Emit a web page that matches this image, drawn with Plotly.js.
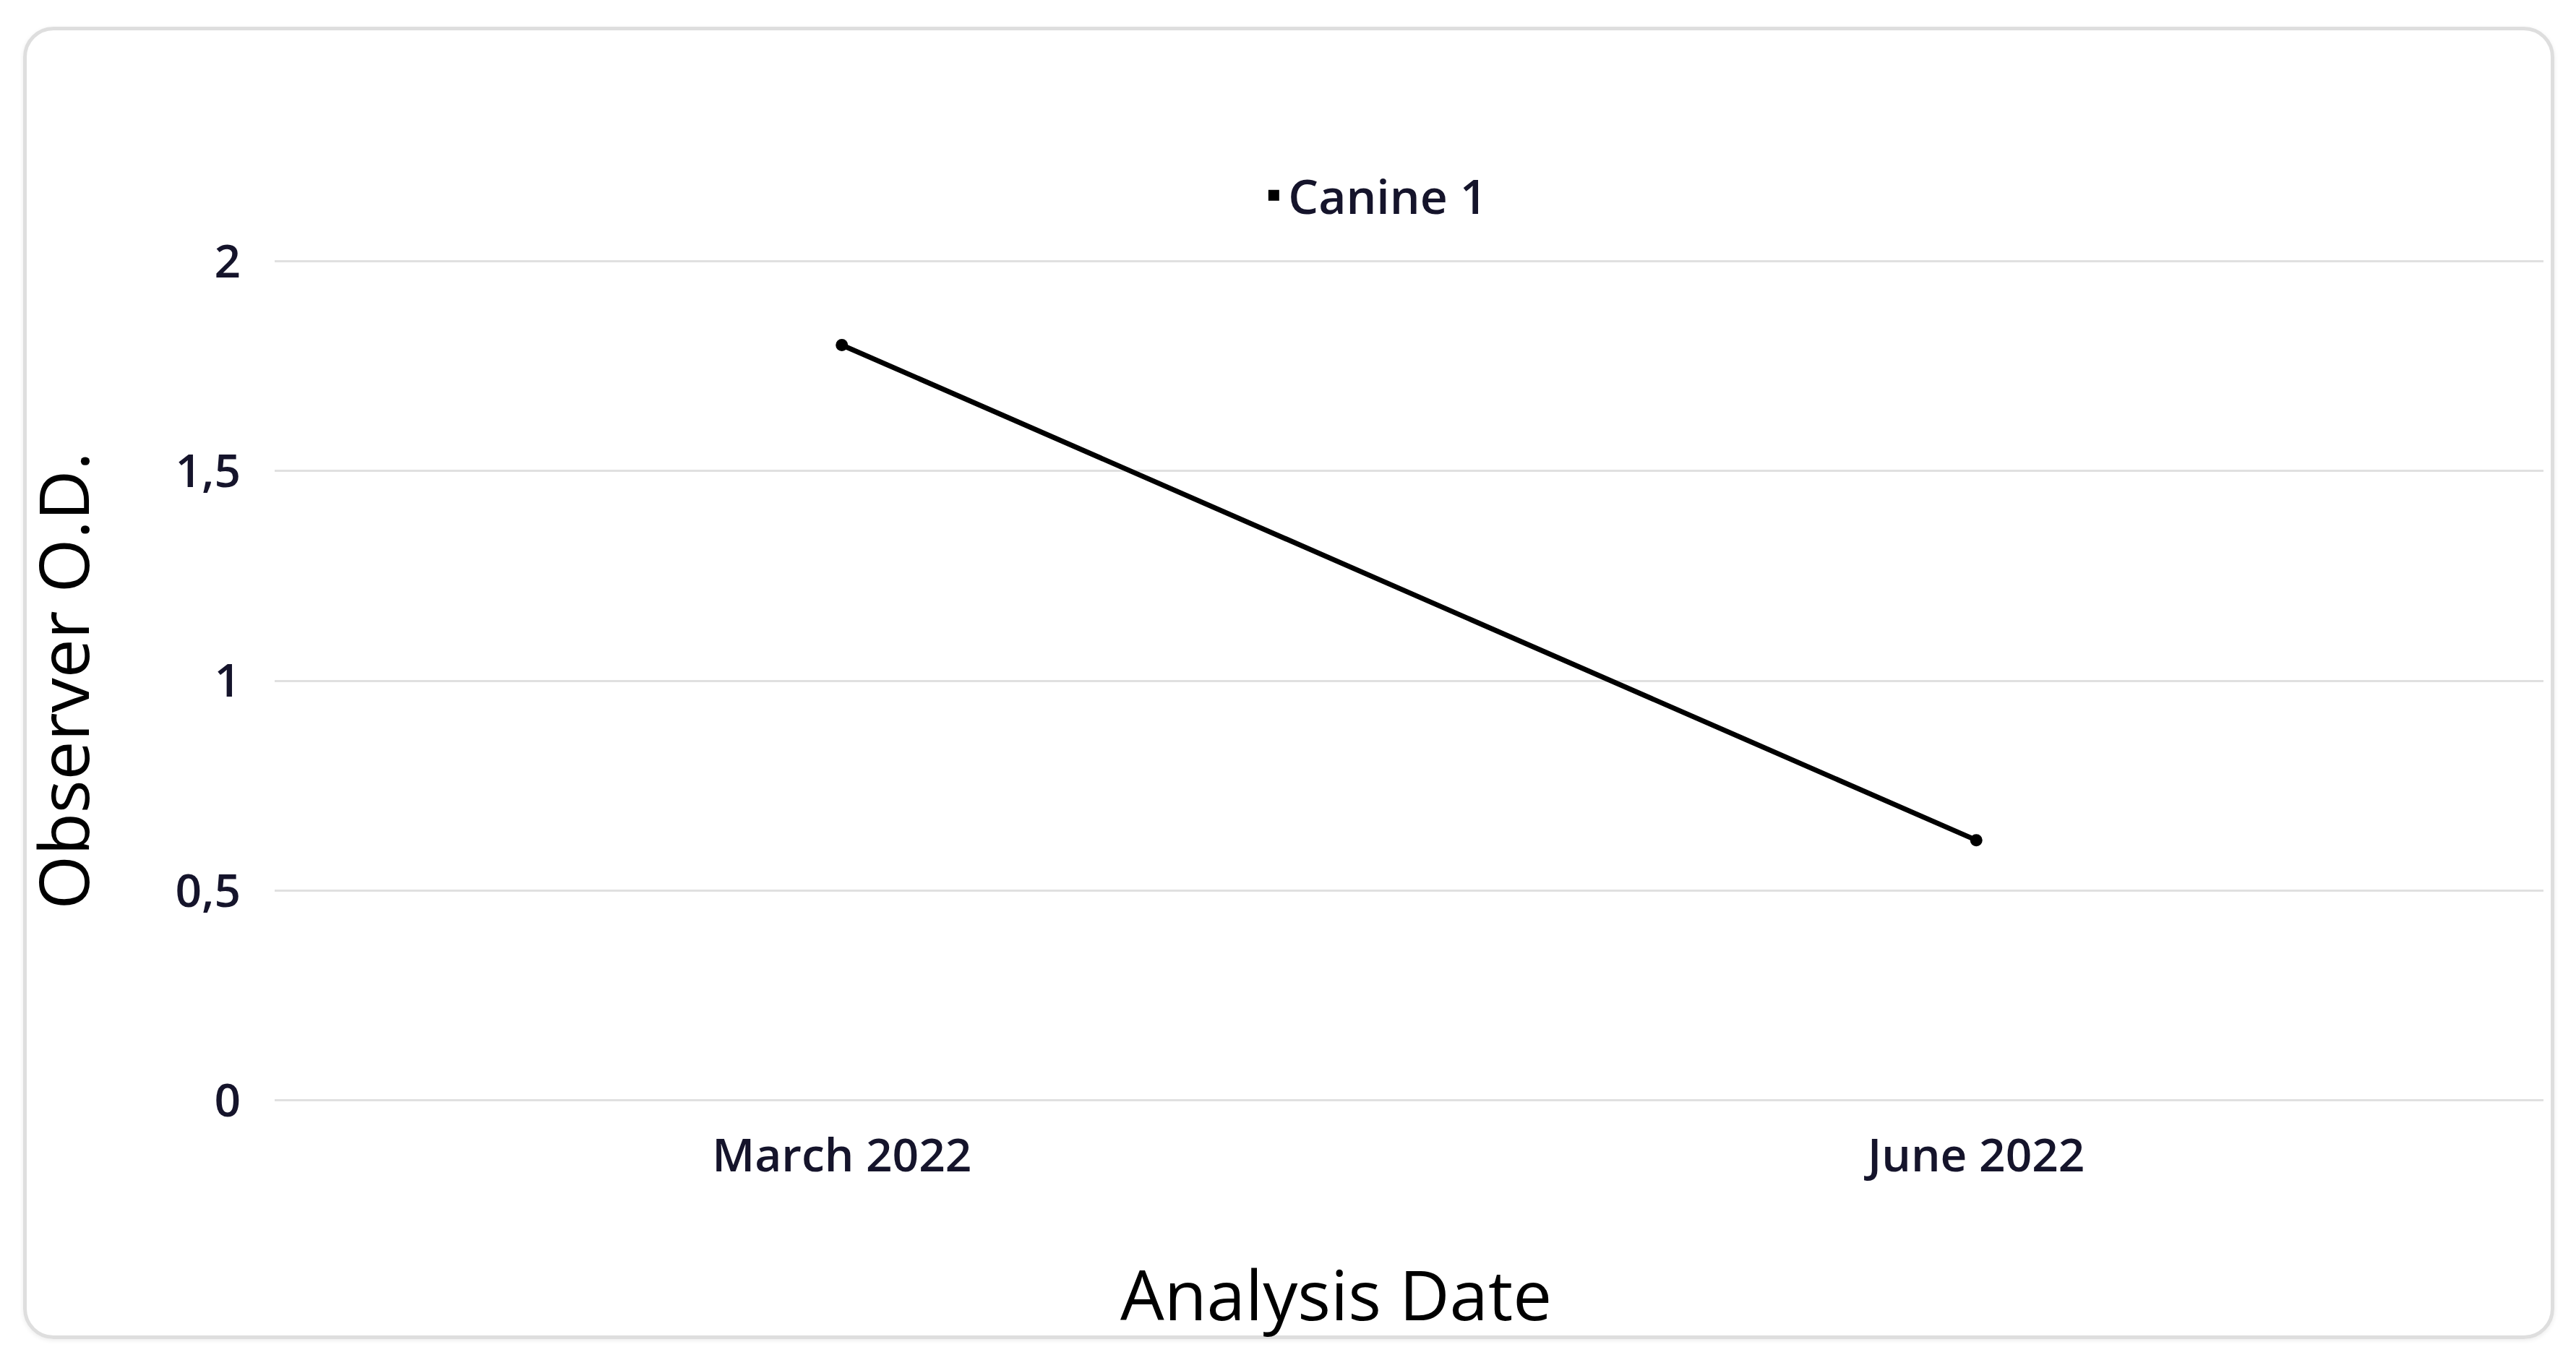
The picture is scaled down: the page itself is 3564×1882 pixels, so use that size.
<!DOCTYPE html>
<html>
<head>
<meta charset="utf-8">
<script src="https://cdn.plot.ly/plotly-3.0.1.min.js"></script>
<style>
  html, body { margin: 0; padding: 0; background: #ffffff; }
  #frame {
    position: absolute; left: 32px; top: 37px;
    width: 3492px; height: 1806px;
    border: 5px solid #dedede; border-radius: 42px;
    box-shadow: 0 2px 6px rgba(0,0,0,0.08);
  }
  #chart { position: absolute; left: 0; top: 0; width: 3564px; height: 1882px; }
</style>
</head>
<body>
<div id="frame"></div>
<div id="chart"></div>
<script>
// data
let dates = ['March 2022', 'June 2022'];
let canine1 = [1.80, 0.62];
let yTicks = [0, 0.5, 1, 1.5, 2];
let yTickText = ['0', '0,5', '1', '1,5', '2'];

let textColor = '#15142b';
let fontFam = '"Open Sans", "DejaVu Sans", sans-serif';

// line with dots, no legend entry
var lineTrace = {
    x: dates,
    y: canine1,
    mode: 'lines+markers',
    line: {color: '#000000', width: 7},
    marker: {color: '#000000', size: 17},
    showlegend: false,
    hoverinfo: 'skip'
};
// legend shows a small square only
var legendTrace = {
    x: [null],
    y: [null],
    name: 'Canine 1',
    mode: 'markers',
    marker: {color: '#000000', size: 15, symbol: 'square'},
    showlegend: true
};

var layout = {
    width: 3564,
    height: 1882,
    paper_bgcolor: 'rgba(0,0,0,0)',
    plot_bgcolor: 'rgba(0,0,0,0)',
    margin: {l: 380, r: 45, t: 359, b: 357, pad: 0},
    font: {family: fontFam, color: textColor, size: 64},
    showlegend: true,
    legend: {
        orientation: 'h',
        x: 0.434, xanchor: 'left',
        y: 1.076, yanchor: 'middle',
        font: {size: 66, weight: 600, color: textColor},
        itemwidth: 30
    },
    xaxis: {
        type: 'category',
        range: [-0.5, 1.5],
        showgrid: false,
        zeroline: false,
        showline: false,
        ticks: '',
        ticklabelstandoff: 31,
        tickfont: {size: 64, weight: 600, color: textColor},
        automargin: false
    },
    yaxis: {
        range: [-0.004, 2.004],
        tickvals: yTicks,
        ticktext: yTickText,
        showgrid: true,
        gridcolor: '#e0e0e0',
        gridwidth: 3,
        zeroline: false,
        showline: false,
        ticks: '',
        ticklabelstandoff: 46,
        tickfont: {size: 64, weight: 600, color: textColor},
        automargin: false,
        title: {text: 'Observer O.D.', standoff: 86, font: {size: 96, color: '#000000'}}
    },
    annotations: [{
        text: 'Analysis Date',
        xref: 'paper', yref: 'paper',
        x: 0.4677, y: -0.227,
        xanchor: 'center', yanchor: 'middle',
        showarrow: false,
        font: {size: 96, color: '#000000'}
    }]
};

Plotly.newPlot('chart', [lineTrace, legendTrace], layout, {staticPlot: true});
</script>
</body>
</html>
